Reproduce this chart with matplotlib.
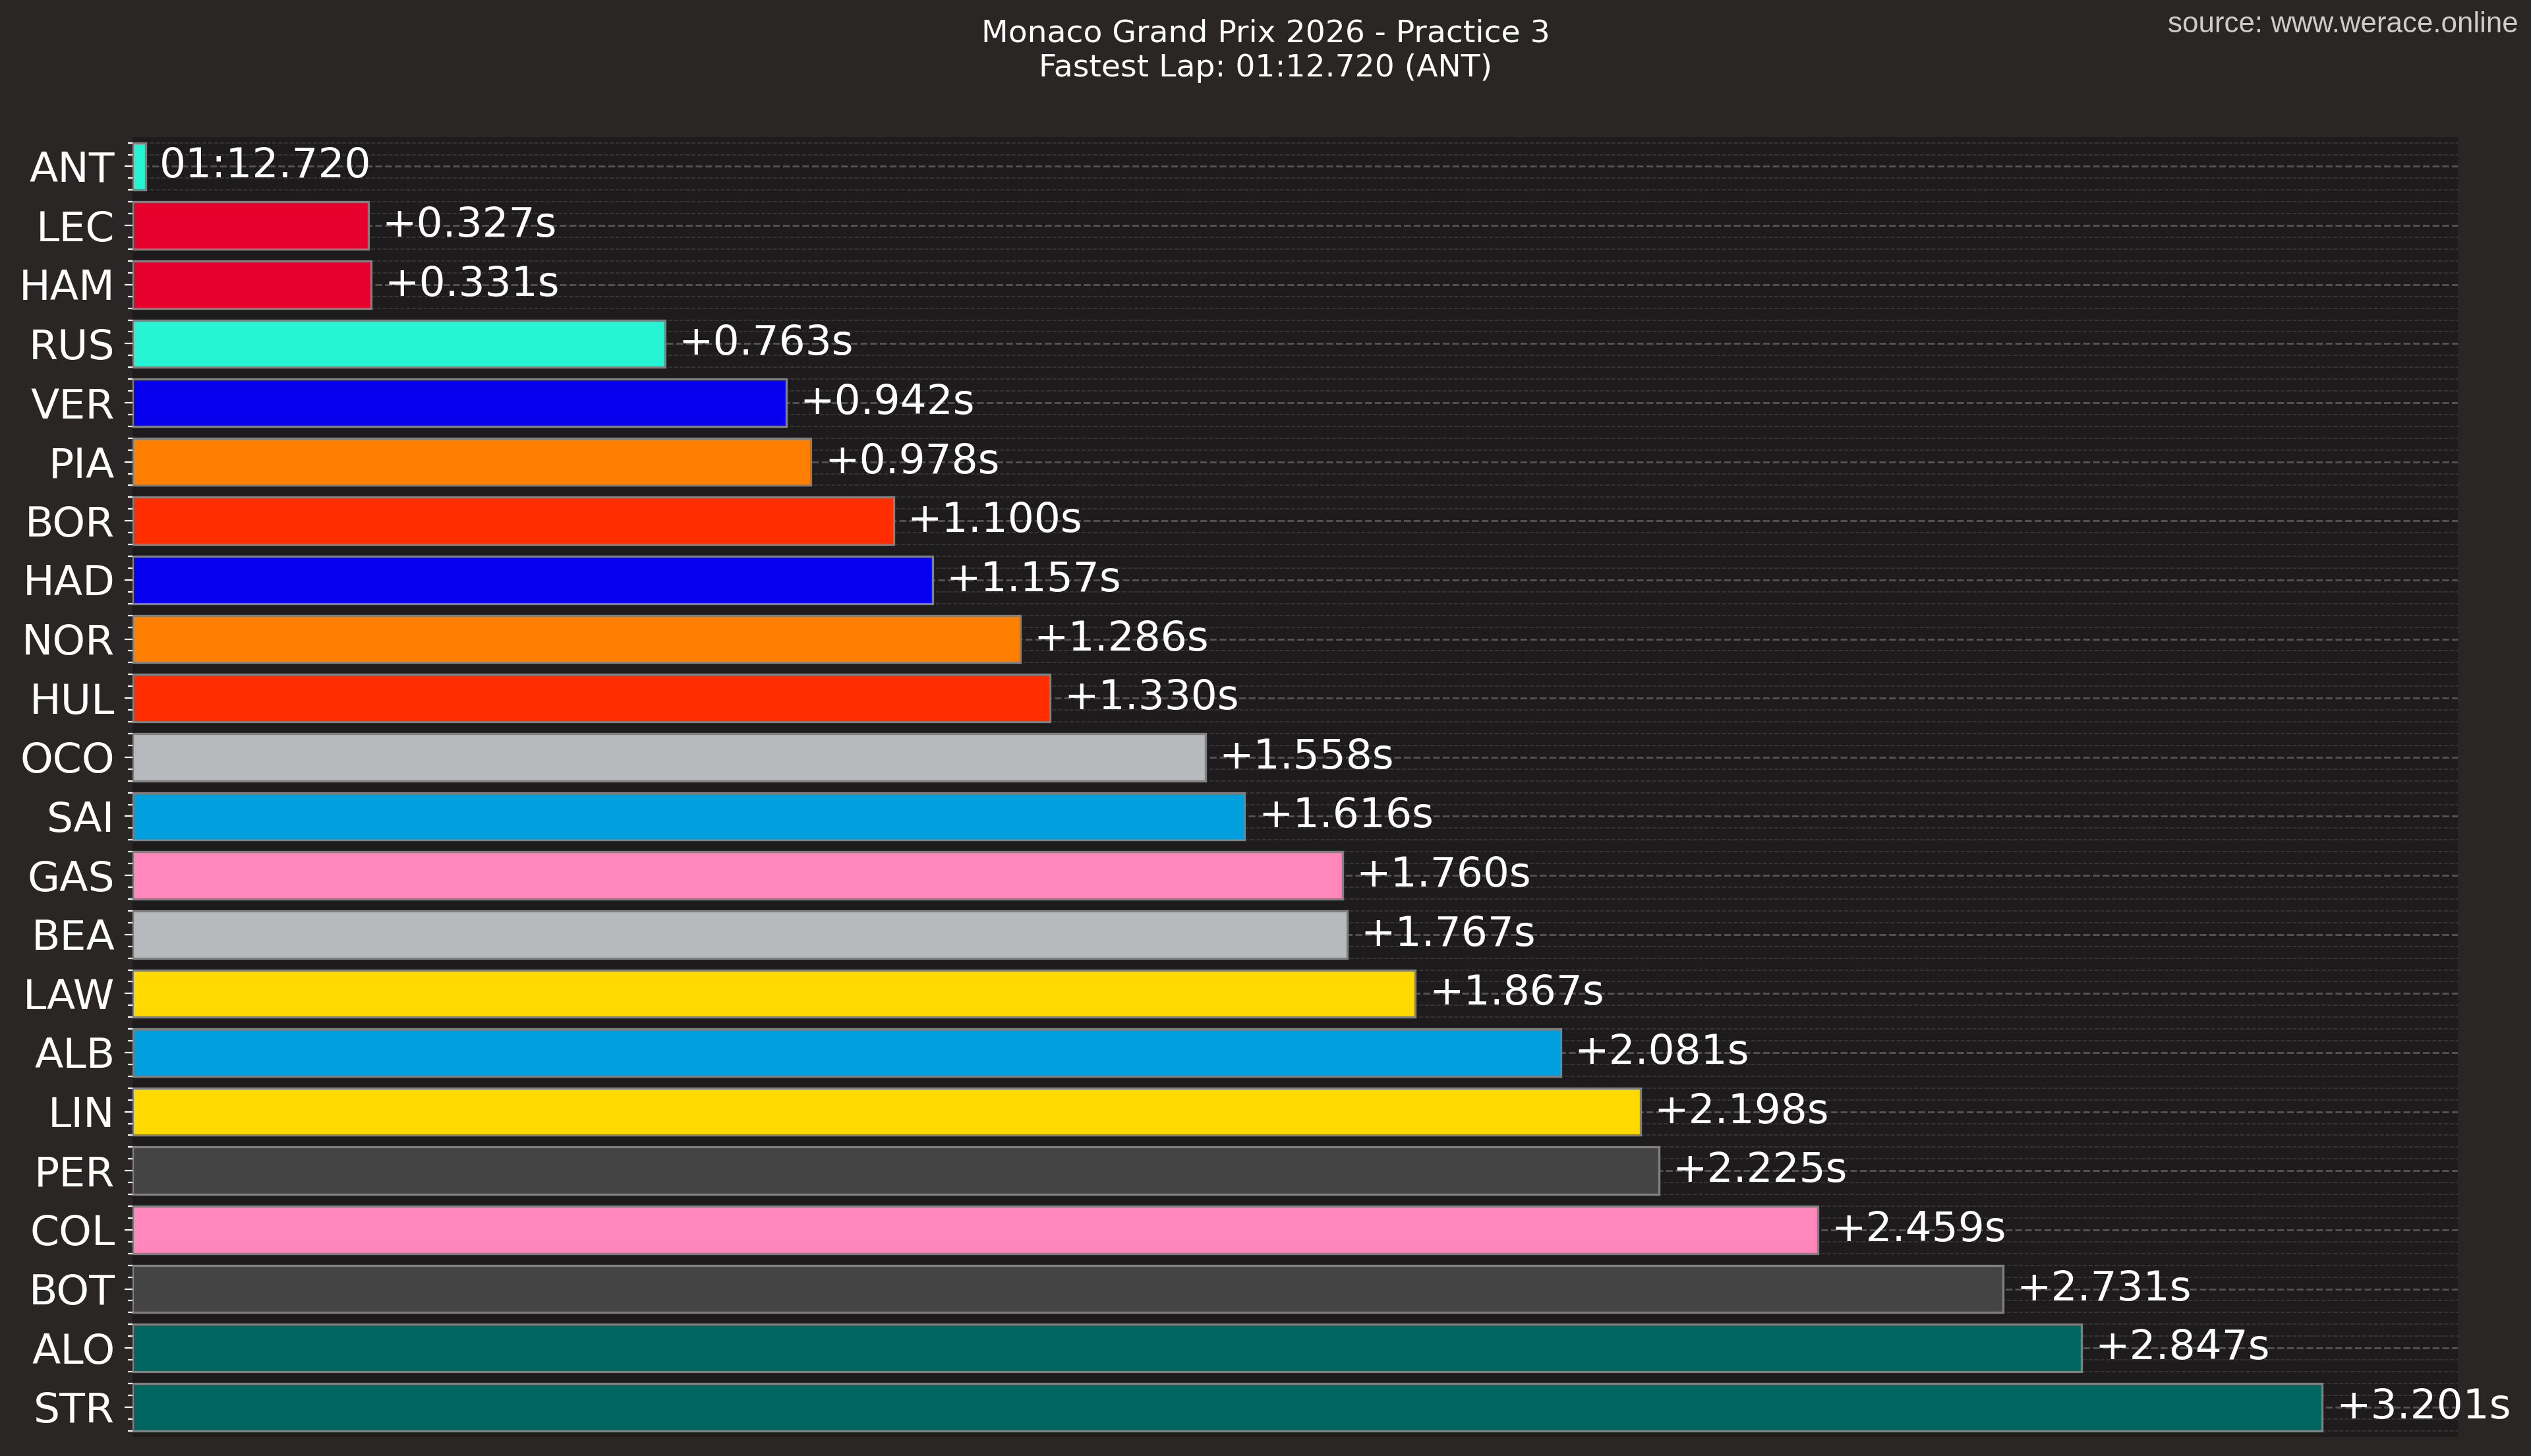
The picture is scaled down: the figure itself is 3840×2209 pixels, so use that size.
import numpy as np
import matplotlib.pyplot as plt
from matplotlib.ticker import MultipleLocator


drivers = ["ANT", "LEC", "HAM", "RUS", "VER", "PIA", "BOR", "HAD", "NOR", "HUL", "OCO",
           "SAI", "GAS", "BEA", "LAW", "ALB", "LIN", "PER", "COL", "BOT", "ALO", "STR"]
gaps = [0.000, 0.327, 0.331, 0.763, 0.942, 0.978, 1.100, 1.157, 1.286, 1.330, 1.558,
        1.616, 1.760, 1.767, 1.867, 2.081, 2.198, 2.225, 2.459, 2.731, 2.847, 3.201]
colors = ["#27F4D2", "#E8002D", "#E8002D", "#27F4D2", "#0600EF", "#FF8000", "#FF2D00",
          "#0600EF", "#FF8000", "#FF2D00", "#B6BABD", "#00A0DE", "#FF87BC", "#B6BABD",
          "#FFD900", "#00A0DE", "#FFD900", "#444444", "#FF87BC", "#444444", "#00665F",
          "#00665F"]
fastest_lap = "01:12.720"
fastest_driver = "ANT"

labels = [fastest_lap if g == 0 else f"+{g:.3f}s" for g in gaps]

bg = "#292625"
panel = "#1d1b1b"

fig = plt.figure(figsize=(19.2, 11.045), dpi=200, facecolor=bg)
ax = fig.add_axes([0.0523, 0.0133, 0.9187, 0.8927], facecolor=panel)

y = np.arange(len(drivers))
gaps = np.array(gaps)
base = -0.02
ax.barh(y, gaps - base, left=base, height=0.8, color=colors,
        edgecolor="#808080", linewidth=1.2, zorder=3)

for yi, g, lab in zip(y, gaps, labels):
    ax.text(g + 0.02, yi, lab, ha="left", va="center", color="white",
            fontsize=22.7, zorder=4)

ax.set_xlim(base, 3.40)
ax.set_ylim(len(drivers) - 0.5, -0.5)
ax.set_yticks(y)
ax.set_yticklabels(drivers)
ax.yaxis.set_minor_locator(MultipleLocator(0.2))
ax.set_xticks([])

ax.grid(axis="y", which="major", color="#555555", linestyle="--", linewidth=1.0, zorder=0)
ax.grid(axis="y", which="minor", color="#3a3a3a", linestyle="--", linewidth=0.6, zorder=0)

ax.tick_params(axis="y", which="major", colors="white", labelsize=22.8, length=4.5,
               width=0.8, pad=5)
ax.tick_params(axis="y", which="minor", colors="white", length=2.5, width=0.8)
for s in ax.spines.values():
    s.set_visible(False)

fig.suptitle(f"Monaco Grand Prix 2026 - Practice 3\nFastest Lap: {fastest_lap} ({fastest_driver})",
             color="white", fontsize=17, y=0.987, va="top")
fig.text(0.995, 0.983, "source: www.werace.online", ha="right", va="center",
         color="#cccccc", fontsize=15.8, family="Liberation Sans")

fig.savefig("out.png", dpi=200, facecolor=bg)
